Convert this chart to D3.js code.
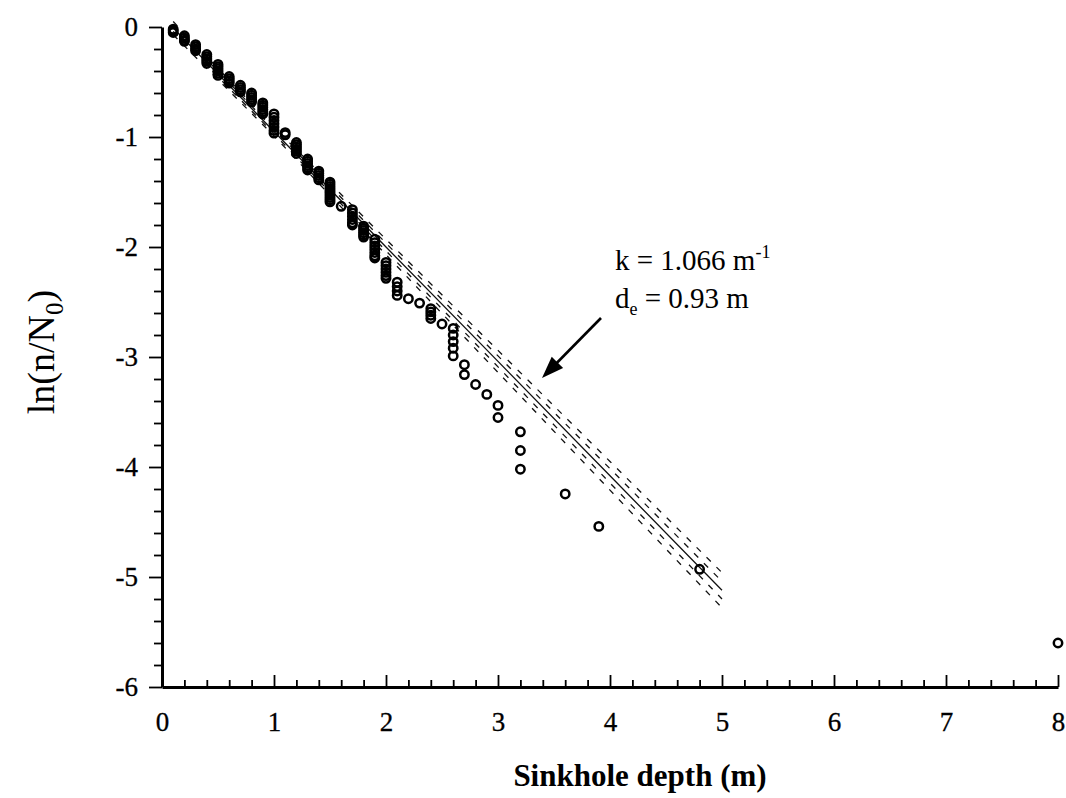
<!DOCTYPE html>
<html>
<head>
<meta charset="utf-8">
<script src="https://cdn.jsdelivr.net/npm/d3@7"></script>
<style>
  body { margin: 0; background: #fff; }
  svg { display: block; }
</style>
</head>
<body>
<svg id="chart" width="1066" height="798"></svg>
<script>

// sinkhole depths (m), one column of observations per depth
var depths = [0.1, 0.2, 0.3, 0.4, 0.5, 0.6, 0.7, 0.8, 0.9, 1.0,
              1.1, 1.2, 1.3, 1.4, 1.5, 1.6, 1.7, 1.8, 1.9, 2.0,
              2.1, 2.2, 2.3, 2.4, 2.5, 2.6, 2.7, 2.8, 2.9, 3.0,
              3.2, 3.6, 3.9, 4.8, 8.0];

// ln(n/N0) values observed at each depth
var lnValues = [
  [-0.02, -0.035, -0.05],
  [-0.08, -0.10, -0.12, -0.13],
  [-0.16, -0.18, -0.20, -0.215],
  [-0.25, -0.27, -0.29, -0.31, -0.33],
  [-0.34, -0.36, -0.38, -0.40, -0.42, -0.44],
  [-0.45, -0.47, -0.49, -0.51],
  [-0.53, -0.55, -0.57, -0.59],
  [-0.60, -0.62, -0.64, -0.66, -0.68],
  [-0.69, -0.71, -0.73, -0.75, -0.77, -0.79],
  [-0.79, -0.82, -0.85, -0.88, -0.91, -0.94, -0.965],
  [-0.96, -0.98],
  [-1.05, -1.07, -1.09, -1.11, -1.13, -1.15],
  [-1.20, -1.22, -1.24, -1.26, -1.28, -1.30],
  [-1.31, -1.33, -1.35, -1.37, -1.39],
  [-1.41, -1.43, -1.45, -1.47, -1.49, -1.51, -1.53, -1.55, -1.57, -1.59],
  [-1.63],
  [-1.66, -1.69, -1.72, -1.75, -1.78, -1.80],
  [-1.81, -1.83, -1.85, -1.87, -1.89, -1.91],
  [-1.93, -1.96, -1.99, -2.02, -2.05, -2.08, -2.10],
  [-2.14, -2.17, -2.20, -2.23, -2.26, -2.285],
  [-2.32, -2.36, -2.40, -2.44],
  [-2.47],
  [-2.51],
  [-2.56, -2.59, -2.62, -2.65],
  [-2.70],
  [-2.74, -2.80, -2.86, -2.92, -2.99],
  [-3.07, -3.16],
  [-3.25],
  [-3.34],
  [-3.44, -3.55],
  [-3.68, -3.85, -4.02],
  [-4.245],
  [-4.54],
  [-4.93],
  [-5.6]
];

// fitted line and its bands
var fitX       = [0.1, 1, 2, 3, 4, 5];
var fitY       = [-0.01, -0.95, -2.0, -3.04, -4.08, -5.12];
var upperOuter = [0.05, -0.91, -1.93, -2.94, -3.95, -4.96];
var upperInner = [0.02, -0.93, -1.965, -2.99, -4.015, -5.04];
var lowerInner = [-0.04, -0.97, -2.035, -3.09, -4.145, -5.2];
var lowerOuter = [-0.07, -0.99, -2.07, -3.14, -4.21, -5.28];

var xMajor = [0, 1, 2, 3, 4, 5, 6, 7, 8];
var yMajor = [0, -1, -2, -3, -4, -5, -6];

var serif = "Liberation Serif, Times New Roman, serif";

var svg = d3.select("#chart");

var x = d3.scaleLinear().domain([0, 8]).range([162, 1058]);
var y = d3.scaleLinear().domain([-6, 0]).range([687, 27]);

var xMinor = d3.range(0, 8.001, 0.2).filter(function(v){ return Math.abs(v - Math.round(v)) > 1e-6; });
var yMinor = d3.range(-6, 0.001, 0.2).filter(function(v){ return Math.abs(v - Math.round(v)) > 1e-6; });

// y axis, ticks outward
svg.append("g")
    .attr("transform", "translate(" + x(0) + ",0)")
    .call(d3.axisLeft(y).tickValues(yMajor).tickSizeInner(13).tickSizeOuter(0)
          .tickPadding(11).tickFormat(function(d){ return d === 0 ? "0" : "-" + Math.abs(d); }));
svg.append("g")
    .attr("transform", "translate(" + x(0) + ",0)")
    .call(d3.axisLeft(y).tickValues(yMinor).tickSizeInner(8).tickSizeOuter(0).tickFormat(""))
    .select(".domain").remove();

// x axis, ticks inward
svg.append("g")
    .attr("transform", "translate(0," + y(-6) + ")")
    .call(d3.axisBottom(x).tickValues(xMajor).tickSizeInner(-12).tickSizeOuter(0)
          .tickPadding(25).tickFormat(d3.format("d")));
svg.append("g")
    .attr("transform", "translate(0," + y(-6) + ")")
    .call(d3.axisBottom(x).tickValues(xMinor).tickSizeInner(-7).tickSizeOuter(0).tickFormat(""))
    .select(".domain").remove();

svg.selectAll(".domain").attr("stroke", "#000").attr("stroke-width", 3);
svg.selectAll(".tick line").attr("stroke", "#000").attr("stroke-width", 1.8);
svg.selectAll(".tick text")
    .attr("font-family", serif)
    .attr("font-size", 27)
    .attr("fill", "#000")
    .attr("stroke", "#000")
    .attr("stroke-width", 0.3);

// fit lines
var line = d3.line()
    .x(function(d){ return x(d[0]); })
    .y(function(d){ return y(d[1]); });

function addLine(ys, dash){
  svg.append("path")
      .datum(fitX.map(function(v, i){ return [v, ys[i]]; }))
      .attr("fill", "none")
      .attr("stroke", "#111")
      .attr("stroke-width", 1.3)
      .attr("stroke-dasharray", dash)
      .attr("d", line);
}
addLine(upperOuter, "6,8");
addLine(upperInner, "6,8");
addLine(lowerInner, "6,8");
addLine(lowerOuter, "6,8");
addLine(fitY, null);

// observations
var points = [];
depths.forEach(function(d, i){
  lnValues[i].forEach(function(v){ points.push([d, v]); });
});

svg.append("g").selectAll("circle")
    .data(points)
  .enter().append("circle")
    .attr("cx", function(d){ return x(d[0]); })
    .attr("cy", function(d){ return y(d[1]); })
    .attr("r", 4.2)
    .attr("fill", "none")
    .attr("stroke", "#000")
    .attr("stroke-width", 2.5);

// annotation
var note = svg.append("g")
    .attr("font-family", serif)
    .attr("font-size", 29)
    .attr("fill", "#000");

var t1 = note.append("text").attr("x", 615).attr("y", 270);
t1.append("tspan").text("k = 1.066 m");
t1.append("tspan").attr("font-size", 18).attr("dy", -12).text("-1");

var t2 = note.append("text").attr("x", 615).attr("y", 308);
t2.append("tspan").text("d");
t2.append("tspan").attr("font-size", 18).attr("dy", 7).text("e");
t2.append("tspan").attr("dy", -7).text(" = 0.93 m");

// arrow
var arrowFrom = [601, 318], arrowTo = [542, 378];
var ang = Math.atan2(arrowTo[1] - arrowFrom[1], arrowTo[0] - arrowFrom[0]);
svg.append("line")
    .attr("x1", arrowFrom[0]).attr("y1", arrowFrom[1])
    .attr("x2", arrowTo[0] - 14 * Math.cos(ang)).attr("y2", arrowTo[1] - 14 * Math.sin(ang))
    .attr("stroke", "#000").attr("stroke-width", 2.6);
var hl = 22, hw = 8;
var bx = arrowTo[0] - hl * Math.cos(ang), by = arrowTo[1] - hl * Math.sin(ang);
svg.append("path")
    .attr("d", "M" + arrowTo[0] + "," + arrowTo[1] +
               "L" + (bx + hw * Math.sin(ang)) + "," + (by - hw * Math.cos(ang)) +
               "L" + (bx - hw * Math.sin(ang)) + "," + (by + hw * Math.cos(ang)) + "Z")
    .attr("fill", "#000");

// axis titles
var yt = svg.append("text")
    .attr("transform", "translate(54,352) rotate(-90)")
    .attr("text-anchor", "middle")
    .attr("font-family", serif)
    .attr("font-size", 38)
    .attr("fill", "#000");
yt.append("tspan").text("ln(n/N");
yt.append("tspan").attr("font-size", 25).attr("dy", 9).text("0");
yt.append("tspan").attr("dy", -9).text(")");

svg.append("text")
    .attr("x", 640)
    .attr("y", 786)
    .attr("text-anchor", "middle")
    .attr("font-family", serif)
    .attr("font-weight", "bold")
    .attr("font-size", 31)
    .attr("fill", "#000")
    .text("Sinkhole depth (m)");

</script>
</body>
</html>
